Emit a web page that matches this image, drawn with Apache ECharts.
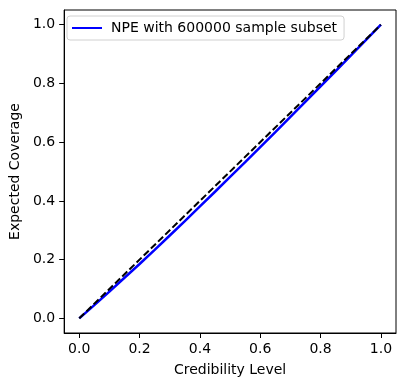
<!DOCTYPE html>
<html>
<head>
<meta charset="utf-8">
<script src="https://cdn.jsdelivr.net/npm/echarts@6/dist/echarts.min.js"></script>
<style>
  html, body { margin: 0; padding: 0; background: #fff; }
  #chart { width: 404px; height: 386px; }
</style>
</head>
<body>
<div id="chart"></div>
<script>
// credibility levels and the coverage
const levels = [0, 0.05, 0.1, 0.15, 0.2, 0.25, 0.3, 0.35, 0.4, 0.45, 0.5, 0.55, 0.6, 0.65, 0.7, 0.75, 0.8, 0.85, 0.9, 0.95, 1.0]
const coverage = [0, 0.045, 0.091, 0.138, 0.185, 0.233, 0.282, 0.331, 0.381, 0.431, 0.482, 0.532, 0.583, 0.634, 0.686, 0.738, 0.79, 0.842, 0.895, 0.947, 1.0]
const diagonal = [[0, 0], [1, 1]]
const tickValues = [0, 0.2, 0.4, 0.6, 0.8, 1.0]
const seriesName = "NPE with 600000 sample subset"

let myChart = echarts.init(document.getElementById("chart"))

const font = "DejaVu Sans"

function axisCommon(name) {
  return {
    type: "value",
    min: -0.05,
    max: 1.05,
    name: name,
    nameLocation: "middle",
    nameTextStyle: { color: "#000", fontFamily: font, fontSize: 14 },
    axisLine: { show: true, onZero: false, lineStyle: { color: "#000", width: 1 } },
    axisTick: {
      show: true,
      inside: false,
      length: 5,
      customValues: tickValues,
      lineStyle: { color: "#000", width: 1 },
    },
    axisLabel: {
      customValues: tickValues,
      color: "#000",
      fontFamily: font,
      fontSize: 14,
      formatter: (v) => v.toFixed(1),
    },
    splitLine: { show: false },
  }
}

let xAxis = axisCommon("Credibility Level")
xAxis.nameGap = 30
xAxis.axisLabel.margin = 9
let yAxis = axisCommon("Expected Coverage")
yAxis.nameGap = 40
yAxis.axisLabel.margin = 9

myChart.setOption({
  animation: false,
  grid: {
    left: 62,
    right: 8,
    top: 10,
    bottom: 53,
    show: true,
    borderColor: "#000",
    borderWidth: 1,
  },
  legend: {
    data: [{ name: seriesName, icon: "rect" }],
    left: 67,
    top: 16,
    padding: [5, 7, 5, 5],
    itemWidth: 30,
    itemHeight: 2,
    itemGap: 8,
    backgroundColor: "#fff",
    borderColor: "#d0d0d0",
    borderWidth: 1,
    borderRadius: 3,
    textStyle: { color: "#000", fontFamily: font, fontSize: 14, padding: [0, 0, 0, 4] },
  },
  xAxis: xAxis,
  yAxis: yAxis,
  series: [
    {
      name: seriesName,
      type: "line",
      data: levels.map((v, i) => [v, coverage[i]]),
      symbol: "none",
      lineStyle: { color: "#0000ff", width: 2.5 },
      itemStyle: { color: "#0000ff" },
      z: 2,
    },
    {
      name: "diagonal",
      type: "line",
      data: diagonal,
      symbol: "none",
      lineStyle: { color: "#000", width: 2, type: [7, 3] },
      z: 3,
    },
  ],
})
</script>
</body>
</html>
